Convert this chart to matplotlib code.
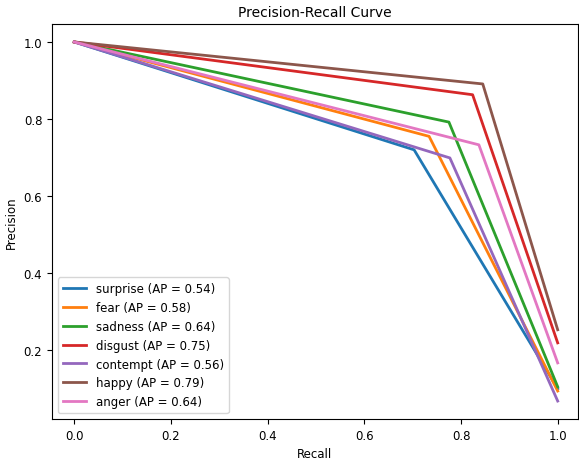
import numpy as np
import matplotlib
matplotlib.use("Agg")
import matplotlib.pyplot as plt

# emotion classes and their AP scores
classes = ["surprise", "fear", "sadness", "disgust", "contempt", "happy", "anger"]
ap_scores = [0.54, 0.58, 0.64, 0.75, 0.56, 0.79, 0.64]

# each curve: (0, 1) -> (recall_mid, precision_mid) -> (1, precision_end)
recall_mid = [0.703, 0.734, 0.775, 0.824, 0.777, 0.845, 0.837]
precision_mid = [0.720, 0.755, 0.792, 0.863, 0.699, 0.891, 0.733]
precision_end = [0.100, 0.094, 0.105, 0.219, 0.068, 0.253, 0.167]

plt.rcParams["font.size"] = 8.5

fig = plt.figure(figsize=(5.79, 4.6), dpi=100)
ax = fig.add_axes([52 / 579, 40 / 460, 526 / 579, 395 / 460])

for i, name in enumerate(classes):
    recall = [0.0, recall_mid[i], 1.0]
    precision = [1.0, precision_mid[i], precision_end[i]]
    ax.plot(recall, precision, lw=2, label=f"{name} (AP = {ap_scores[i]:.2f})")

ax.set_xlim(-0.046, 1.042)
ax.set_xlabel("Recall")
ax.set_ylabel("Precision")
ax.set_title("Precision-Recall Curve", fontsize=10)
ax.legend(loc="lower left")

fig.savefig("out.png", dpi=100)
